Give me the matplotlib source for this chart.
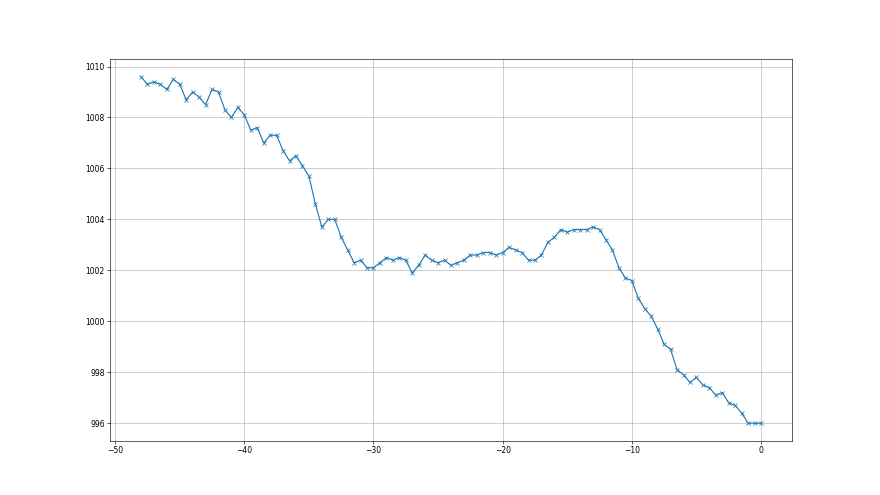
import numpy as np
import matplotlib
matplotlib.use("Agg")
import matplotlib.pyplot as plt

# hours before (x), pressure in hPa (y)
hours = np.arange(-48, 0.5, 0.5)
pressure = [
    1009.6, 1009.3, 1009.4, 1009.3, 1009.1, 1009.5, 1009.3, 1008.7, 1009.0, 1008.8,
    1008.5, 1009.1, 1009.0, 1008.3, 1008.0, 1008.4, 1008.1, 1007.5, 1007.6, 1007.0,
    1007.3, 1007.3, 1006.7, 1006.3, 1006.5, 1006.1, 1005.7, 1004.6, 1003.7, 1004.0,
    1004.0, 1003.3, 1002.8, 1002.3, 1002.4, 1002.1, 1002.1, 1002.3, 1002.5, 1002.4,
    1002.5, 1002.4, 1001.9, 1002.2, 1002.6, 1002.4, 1002.3, 1002.4, 1002.2, 1002.3,
    1002.4, 1002.6, 1002.6, 1002.7, 1002.7, 1002.6, 1002.7, 1002.9, 1002.8, 1002.7,
    1002.4, 1002.4, 1002.6, 1003.1, 1003.3, 1003.6, 1003.5, 1003.6, 1003.6, 1003.6,
    1003.7, 1003.6, 1003.2, 1002.8, 1002.1, 1001.7, 1001.6, 1000.9, 1000.5, 1000.2,
    999.7, 999.1, 998.9, 998.1, 997.9, 997.6, 997.8, 997.5, 997.4, 997.1,
    997.2, 996.8, 996.7, 996.4, 996.0, 996.0, 996.0,
]

fig = plt.figure(figsize=(16, 9), dpi=55)
ax = fig.add_subplot(111)
ax.plot(hours, pressure, marker='x', color='#1f77b4')
ax.grid(True)

fig.savefig("out.png", dpi=55)
